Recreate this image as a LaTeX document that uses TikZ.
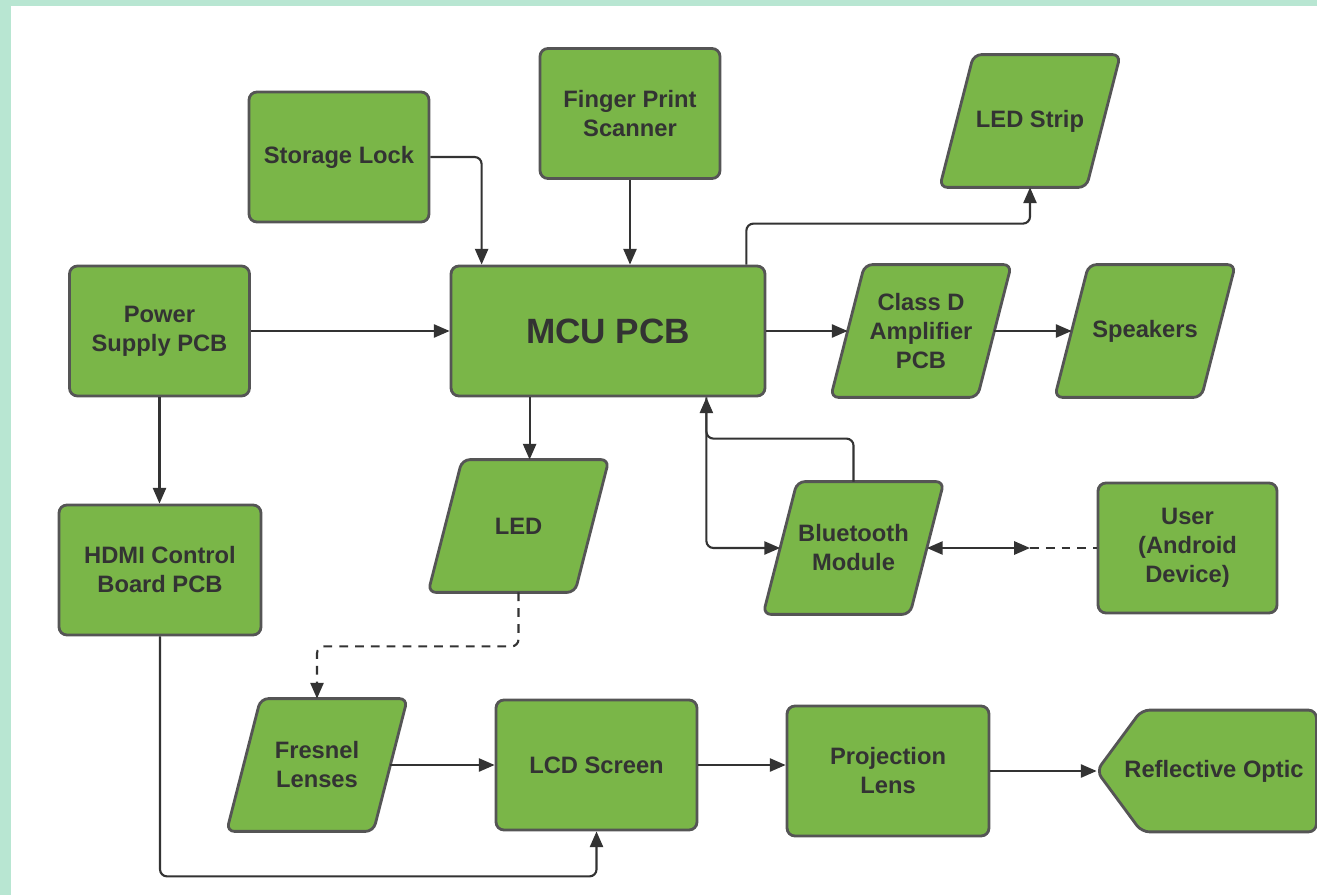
\documentclass[tikz,border=0pt]{standalone}
\usepackage{fontspec}
\setmainfont{Liberation Sans}
\usetikzlibrary{arrows.meta,backgrounds}
\definecolor{boxgreen}{HTML}{7AB648}
\definecolor{boxline}{HTML}{555555}
\definecolor{inkgray}{HTML}{333333}
\definecolor{mint}{HTML}{B8E6D2}
\tikzset{
  >={Triangle[length=9pt,width=7.5pt]},
  block/.style={draw=boxline, fill=boxgreen, line width=1.6pt, rounded corners=4.5pt,
    minimum width=3.6cm, minimum height=2.6cm, align=center, text=inkgray,
    font=\fontsize{13.5}{16.5}\selectfont\bfseries},
  slantblock/.style={block, draw=none, fill=none, minimum width=2.88cm},
  slantshape/.style={draw=boxline, fill=boxgreen, line width=1.6pt, rounded corners=4.5pt},
  conn/.style={draw=inkgray, line width=1.2pt, rounded corners=4pt, ->},
}
\begin{document}
\begin{tikzpicture}[x=0.02cm, y=-0.02cm]

    \useasboundingbox (0,0) rectangle (1317,895);

    % top row
    \node[block] (slock) at (339,157) {Storage Lock};
    \node[block] (finger) at (630,113.5) {Finger Print\\Scanner};
    \node[slantblock] (ledstrip) at (1030,121) {LED Strip};

    % middle row
    \node[block] (power) at (159.5,331) {Power\\Supply PCB};
    \node[block, minimum width=6.28cm, font=\fontsize{20}{24}\selectfont\bfseries] (mcu) at (608,331) {MCU PCB};
    \node[slantblock] (classd) at (921,331) {Class D\\Amplifier\\PCB};
    \node[slantblock] (speakers) at (1145,331) {Speakers};

    \node[block, minimum width=4.04cm] (hdmi) at (160,570) {HDMI Control\\Board PCB};
    \node[slantblock] (led) at (518.5,526) {LED};
    \node[slantblock] (bt) at (853.5,548) {Bluetooth\\Module};
    \node[block, minimum width=3.58cm] (user) at (1187.5,548) {User\\(Android\\Device)};

    % bottom row
    \node[slantblock] (fresnel) at (317,765) {Fresnel\\Lenses};
    \node[block, minimum width=4.02cm] (lcd) at (596.5,765) {LCD Screen};
    \node[block, minimum width=4.04cm] (projlens) at (888,771) {Projection\\Lens};
    \node[slantblock, minimum width=4.64cm, minimum height=2.38cm] (optic) at (1214,771) {Reflective Optic};

    \begin{scope}[on background layer]
        % page
        \fill[mint] (0,0) rectangle (1317,895);
        \fill[white] (11,6) rectangle (1317,895);
        \foreach \n in {ledstrip,classd,speakers,led,bt,fresnel}
            \draw[slantshape] ([xshift=-0.34cm]\n.south west) -- ([xshift=-0.34cm]\n.south east)
                -- ([xshift=0.34cm]\n.north east) -- ([xshift=0.34cm]\n.north west) -- cycle;
        \clip (0,0) rectangle (1317,895);
        \draw[slantshape] (optic.west) -- ([xshift=0.9cm]optic.north west) -- ([xshift=-0.3cm]optic.north east)
            -- ([xshift=-0.3cm]optic.south east) -- ([xshift=0.9cm]optic.south west) -- cycle;
    \end{scope}

    \coordinate (mculed) at ([xshift=1.6cm]mcu.south west);
    \coordinate (mcubt) at ([xshift=-1.2cm]mcu.south east);
    \coordinate (btlink) at (1030,548);

    % connectors
    \draw[conn] (slock.east) -| ([xshift=0.64cm]mcu.north west);
    \draw[conn] (finger.south) -- (finger.south |- mcu.north);
    \draw[conn] ([xshift=-0.4cm]mcu.north east) -- ++(0,-41) -| (ledstrip.south);
    \draw[conn] (power.east) -- (mcu.west);
    \draw[conn] (mcu.east) -- (classd.west);
    \draw[conn] (classd.east) -- (speakers.west);
    \draw[conn] (power.south) -- (power.south |- hdmi.north);
    \draw[conn] (mculed) -- (mculed |- led.north);
    \draw[conn] (bt.north) -- ++(0,-43) -| (mcubt);
    \draw[conn] (mcubt) |- (bt.west);
    \draw[conn, <->] (bt.east) -- (btlink);
    \draw[conn, -, dash pattern=on 5pt off 4pt] (btlink) -- (user.west);
    \draw[conn, dash pattern=on 5pt off 4pt] (led.south) -- ++(0,54) -| (fresnel.north);
    \draw[conn] (hdmi.south) -- ++(0,240) -| (lcd.south);
    \draw[conn] (fresnel.east) -- (lcd.west);
    \draw[conn] (lcd.east) -- (lcd.east -| projlens.west);
    \draw[conn] (projlens.east) -- (optic.west);

\end{tikzpicture}
\end{document}
